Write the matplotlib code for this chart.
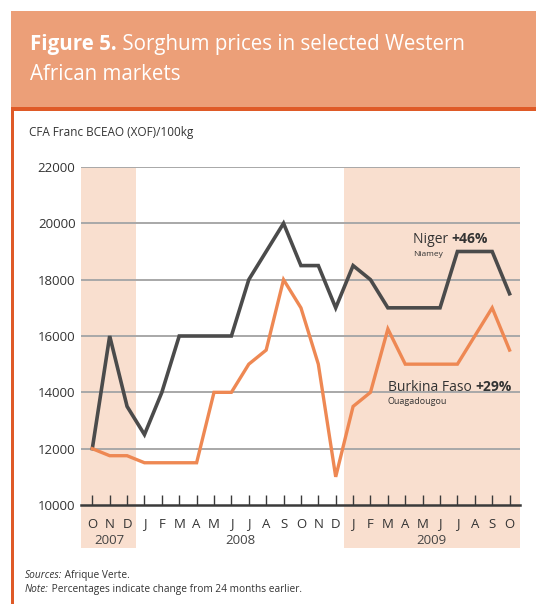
import matplotlib
matplotlib.use('Agg')
import matplotlib.pyplot as plt
from matplotlib.patches import Rectangle
import matplotlib.transforms as mtransforms

plt.rcParams['font.family'] = ['Open Sans', 'DejaVu Sans']

months = ['O', 'N', 'D', 'J', 'F', 'M', 'A', 'M', 'J', 'J', 'A', 'S', 'O', 'N', 'D',
          'J', 'F', 'M', 'A', 'M', 'J', 'J', 'A', 'S', 'O']
years = ['2007', '2008', '2009']
year_pos = [1, 8.5, 19.5]
niger = [12000, 16000, 13500, 12500, 14000, 16000, 16000, 16000, 16000, 18000, 19000, 20000, 18500,
         18500, 17000, 18500, 18000, 17000, 17000, 17000, 17000, 19000, 19000, 19000, 17500]
burkina = [12000, 11750, 11750, 11500, 11500, 11500, 11500, 14000, 14000, 15000, 15500, 18000, 17000,
           15000, 11000, 13500, 14000, 16250, 15000, 15000, 15000, 15000, 16000, 17000, 15500]
yticks = [10000, 12000, 14000, 16000, 18000, 20000, 22000]

W, H = 536, 604
fig = plt.figure(figsize=(W / 100, H / 100), dpi=100)
fig.patch.set_facecolor('white')

ORANGE = '#EC9F78'
DARK_OR = '#DF5A27'
SHADE = '#F9DFCF'
GREY = '#4B4B4B'
LINE_OR = '#EE8853'


def fx(x):
    return x / W


def fy(y):
    return 1 - y / H


# header block
fig.patches.append(Rectangle((fx(11), fy(108)), fx(536) - fx(11), fy(11) - fy(108),
                             transform=fig.transFigure, facecolor=ORANGE, edgecolor='none'))
fig.patches.append(Rectangle((fx(11), fy(111)), fx(536) - fx(11), fy(107) - fy(111),
                             transform=fig.transFigure, facecolor=DARK_OR, edgecolor='none'))
fig.patches.append(Rectangle((fx(11), fy(604)), fx(14) - fx(11), fy(110) - fy(604),
                             transform=fig.transFigure, facecolor=DARK_OR, edgecolor='none'))

renderer = fig.canvas.get_renderer()


def put(x, y, parts, va='baseline'):
    cx = x
    for txt, kw in parts:
        t = fig.text(fx(cx), fy(y), txt, va=va, ha='left', **kw)
        bb = t.get_window_extent(renderer)
        cx = bb.x1


put(30, 50, [('Figure 5.', dict(color='white', fontsize=14.8, fontweight='bold')),
             (' Sorghum prices in selected Western', dict(color='white', fontsize=14.8))])
put(30, 80, [('African markets', dict(color='white', fontsize=14.8))])
put(29, 136, [('CFA Franc BCEAO (XOF)/100kg', dict(color='#333333', fontsize=8.5))])

# axes
x0, x1, ytop, ybot = 81, 520, 167, 505
ax = fig.add_axes([fx(x0), fy(ybot), fx(x1) - fx(x0), fy(ytop) - fy(ybot)])
ax.set_facecolor('none')
ax.set_xlim(-0.65, 24.6)
ax.set_ylim(10000, 22000)

trans = mtransforms.blended_transform_factory(ax.transData, ax.transAxes)
for a, b in [(-0.65, 2.5), (14.5, 24.6)]:
    ax.add_patch(Rectangle((a, -0.128), b - a, 1.128, transform=trans, facecolor=SHADE,
                           edgecolor='none', clip_on=False, zorder=0))

for v in yticks[1:]:
    ax.axhline(v, color='#A8A8A8', lw=1.4, zorder=1)

x = list(range(len(months)))
ax.plot(x, niger, color=GREY, lw=2.6, solid_joinstyle='miter', zorder=3)
ax.plot(x, burkina, color=LINE_OR, lw=2.4, solid_joinstyle='miter', zorder=3)

for s in ['top', 'right', 'left']:
    ax.spines[s].set_visible(False)
ax.spines['bottom'].set_color('#3a3a3a')
ax.spines['bottom'].set_linewidth(1.8)
ax.spines['bottom'].set_zorder(4)

ax.set_yticks(yticks)
ax.set_yticklabels([str(v) for v in yticks], fontsize=9.5, color='#333333')
ax.tick_params(axis='y', length=0, pad=4)
ax.set_xticks(x)
ax.set_xticklabels(months, fontsize=9.5, color='#333333')
ax.tick_params(axis='x', direction='in', length=7, width=1.0, color='#3a3a3a', pad=9)

for yr, p in zip(years, year_pos):
    ax.text(p, -0.105, yr, transform=trans, ha='center', va='center', fontsize=9.5, color='#444444')

# series labels
put(413, 243, [('Niger ', dict(color='#333333', fontsize=10)),
               ('+46%', dict(color='#333333', fontsize=10, fontweight='bold'))])
put(413, 256, [('Niamey', dict(color='#333333', fontsize=6))])
put(388, 391, [('Burkina Faso ', dict(color='#333333', fontsize=10)),
               ('+29%', dict(color='#333333', fontsize=10, fontweight='bold'))])
put(388, 404, [('Ouagadougou', dict(color='#333333', fontsize=6.5))])

# footer
put(25, 578, [('Sources:', dict(color='#333333', fontsize=7.3, style='italic')),
              (' Afrique Verte.', dict(color='#333333', fontsize=7.3))])
put(25, 592, [('Note:', dict(color='#333333', fontsize=7.3, style='italic')),
              (' Percentages indicate change from 24 months earlier.', dict(color='#333333', fontsize=7.3))])

fig.savefig('out.png', dpi=100)
